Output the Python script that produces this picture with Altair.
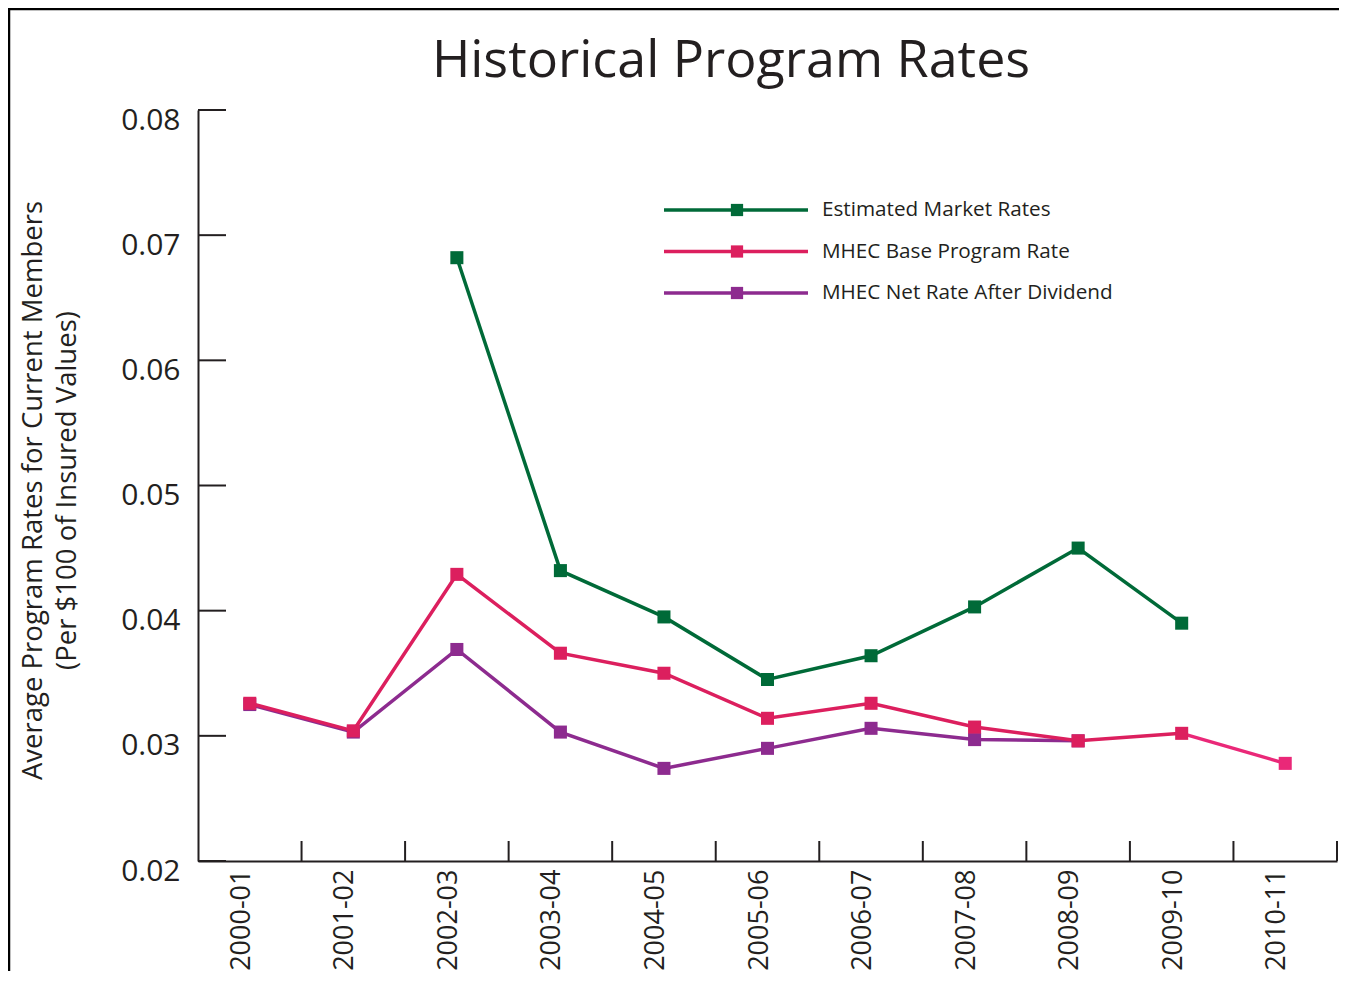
import altair as alt
import pandas as pd

years = ["2000-01", "2001-02", "2002-03", "2003-04", "2004-05", "2005-06",
         "2006-07", "2007-08", "2008-09", "2009-10", "2010-11"]
market = [None, None, 0.0682, 0.0432, 0.0395, 0.0345, 0.0364, 0.0403, 0.0450, 0.0390, None]
base = [0.0326, 0.0304, 0.0429, 0.0366, 0.0350, 0.0314, 0.0326, 0.0307, 0.0296, 0.0302, 0.0278]
net = [0.0325, 0.0303, 0.0369, 0.0303, 0.0274, 0.0290, 0.0306, 0.0297, 0.0296, None, None]

series_names = ["Estimated Market Rates", "MHEC Base Program Rate", "MHEC Net Rate After Dividend"]
series_colors = ["#006a38", "#dc1f5e", "#8d2b8f"]
series_values = [market, base, net]
last_segment_color = "#ea2878"

y_ticks = [0.02, 0.03, 0.04, 0.05, 0.06, 0.07, 0.08]
title_text = "Historical Program Rates"
y_title = ["Average Program Rates for Current Members", "(Per $100 of Insured Values)"]

FONT = "Open Sans"
INK = "#231f20"
W, H = 1139, 751
PAD = {"left": 190, "top": 102, "right": 2, "bottom": 110}

rows = []
for name, vals in zip(series_names, series_values):
    for yr, v in zip(years, vals):
        if v is not None:
            rows.append({"series": name, "year": yr, "value": v})
df = pd.DataFrame(rows)

x_scale = alt.Scale(type="band", domain=years, paddingInner=0, paddingOuter=0)
y_scale = alt.Scale(domain=[0.02, 0.08], nice=False, zero=False)

x_axis = alt.Axis(title=None, ticks=False, grid=False, labelAngle=270, labelAlign="right",
                  labelBaseline="middle", labelPadding=8, labelOffset=-8,
                  labelFont=FONT, labelFontSize=27, labelColor=INK,
                  domainColor=INK, domainWidth=2)
y_axis = alt.Axis(values=y_ticks, format=".2f", ticks=False, grid=False, labelPadding=18,
                  labelOffset=10, labelFont=FONT, labelFontSize=30, labelColor=INK,
                  domainColor=INK, domainWidth=2,
                  title=y_title, titleFont=FONT, titleFontSize=27.5, titleFontWeight="normal",
                  titleColor=INK, titleAngle=270, titleAlign="center", titleBaseline="middle",
                  titleLineHeight=34, titleX=-165, titleY=380)

X = alt.X("year:N", scale=x_scale, axis=x_axis, sort=years)
Y = alt.Y("value:Q", scale=y_scale, axis=y_axis)

layers = []

# y ticks pointing inward
ytick_df = pd.DataFrame({"value": y_ticks})
layers.append(
    alt.Chart(ytick_df).mark_rule(color=INK, strokeWidth=2).encode(
        y=Y, x=alt.value(0), x2=alt.value(28),
    )
)

# x ticks at category boundaries pointing inward
xtick_df = pd.DataFrame({"year": years})
layers.append(
    alt.Chart(xtick_df).mark_rule(color=INK, strokeWidth=2).encode(
        x=alt.X("year:N", scale=x_scale, axis=x_axis, sort=years, bandPosition=1),
        y=alt.value(H - 20), y2=alt.value(H),
    )
)

# series (drawn net first, then base, then market)
for i in [2, 1, 0]:
    name, color = series_names[i], series_colors[i]
    sub = df[df["series"] == name]
    if i == 1:
        # last segment of the base rate is drawn in a lighter pink
        tail = sub[sub["year"].isin(years[-2:])]
        tail_chart = alt.Chart(tail).encode(x=X, y=Y)
        layers.append(tail_chart.mark_line(color=last_segment_color, strokeWidth=3.5))
        layers.append(alt.Chart(tail[tail["year"] == years[-1]]).encode(x=X, y=Y).mark_point(
            shape="square", filled=True, size=170, color=last_segment_color, opacity=1))
        sub = sub[sub["year"] != years[-1]]
    base_chart = alt.Chart(sub).encode(x=X, y=Y)
    layers.append(base_chart.mark_line(color=color, strokeWidth=3.5))
    layers.append(base_chart.mark_point(shape="square", filled=True, size=170, color=color, opacity=1))

# manual legend
for i, (name, color) in enumerate(zip(series_names, series_colors)):
    ly = 100 + 41.5 * i
    one = pd.DataFrame({"label": [name]})
    layers.append(alt.Chart(one).mark_rule(color=color, strokeWidth=3.5).encode(
        x=alt.value(466), x2=alt.value(610), y=alt.value(ly)))
    layers.append(alt.Chart(one).mark_point(shape="square", filled=True, size=150, color=color, opacity=1).encode(
        x=alt.value(539), y=alt.value(ly)))
    layers.append(alt.Chart(one).mark_text(align="left", baseline="middle", font=FONT, fontSize=20.7,
                                           color=INK).encode(
        x=alt.value(624), y=alt.value(ly), text="label:N"))

# title
tdf = pd.DataFrame({"t": [title_text]})
layers.append(alt.Chart(tdf).mark_text(align="center", baseline="alphabetic", font=FONT, fontSize=52,
                                       color=INK).encode(
    x=alt.value(533), y=alt.value(-33), text="t:N"))

# frame border (top and left)
frame = pd.DataFrame({"k": [0]})
layers.append(alt.Chart(frame).mark_rule(color="#000000", strokeWidth=2.5).encode(
    x=alt.value(-PAD["left"] + 1), y=alt.value(-PAD["top"]), y2=alt.value(H + PAD["bottom"])))
layers.append(alt.Chart(frame).mark_rule(color="#000000", strokeWidth=2.5).encode(
    x=alt.value(-PAD["left"]), x2=alt.value(W + PAD["right"]), y=alt.value(-PAD["top"] + 1)))

chart = alt.layer(*layers).properties(
    width=W, height=H,
    autosize=alt.AutoSizeParams(type="none"),
    padding=PAD,
).configure(background="white").configure_view(stroke=None)

chart.save("out.html", embed_options={"renderer": "svg", "actions": False})
